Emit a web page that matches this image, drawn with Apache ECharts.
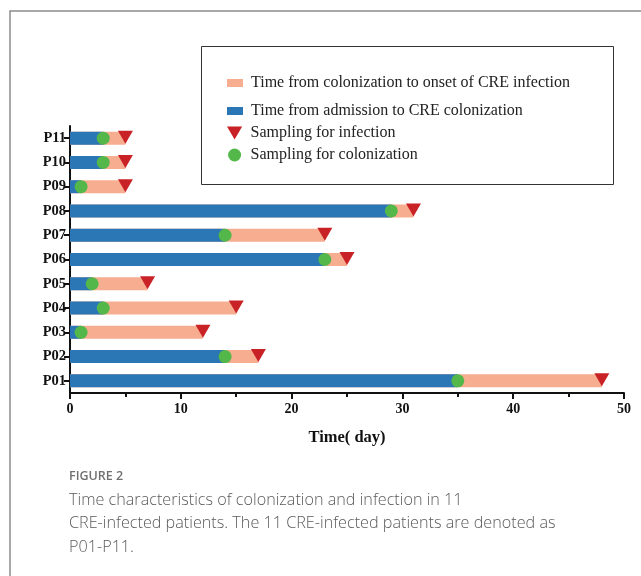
<!DOCTYPE html>
<html>
<head>
<meta charset="utf-8">
<script src="https://cdn.jsdelivr.net/npm/echarts@6/dist/echarts.min.js"></script>
<style>
  html, body { margin: 0; padding: 0; background: #fff; }
  #chart { width: 641px; height: 576px; }
</style>
</head>
<body>
<div id="chart"></div>
<script>
const patients = ['P01', 'P02', 'P03', 'P04', 'P05', 'P06', 'P07', 'P08', 'P09', 'P10', 'P11']
// day of CRE colonization (green dot, end of blue bar)
const colonizationDay = [35, 14, 1, 3, 2, 23, 14, 29, 1, 3, 3]
// day of CRE infection onset (red triangle, end of pink bar)
const infectionDay = [48, 17, 12, 15, 7, 25, 23, 31, 5, 5, 5]
const xTicks = [0, 10, 20, 30, 40, 50]

const blue = '#2b76b5'
const pink = '#f7ad8f'
const red = '#c92226'
const green = '#53b849'

const serif = '"Liberation Serif", "Times New Roman", serif'
const sans = '"Open Sans", "Noto Sans", sans-serif'

const chart = echarts.init(document.getElementById('chart'))

chart.setOption({
  animation: false,
  graphic: [
    { type: 'rect', shape: { x: 10, y: 11, width: 700, height: 700 }, style: { fill: 'none', stroke: '#8c8c8c', lineWidth: 1.5 }, silent: true },
    { type: 'rect', shape: { x: 201.5, y: 46.5, width: 412, height: 138 }, style: { fill: 'none', stroke: '#333', lineWidth: 1 }, silent: true },
    { type: 'text', left: 69, top: 470, style: { text: 'FIGURE 2', font: '600 12.5px ' + sans, fill: '#707070' } },
    {
      type: 'text', left: 69, top: 488.5,
      style: {
        text: 'Time characteristics of colonization and infection in 11\nCRE-infected patients. The 11 CRE-infected patients are denoted as\nP01-P11.',
        font: '300 16.2px ' + sans, fill: '#5a5a5a', lineHeight: 23.5
      }
    }
  ],
  legend: [
    {
      orient: 'vertical', left: 222, top: 70, itemWidth: 16, itemHeight: 8, itemGap: 12,
      data: [
        { name: 'Time from colonization to onset of CRE infection', icon: 'rect' },
        { name: 'Time from admission to CRE colonization', icon: 'rect' }
      ],
      textStyle: { fontFamily: serif, fontSize: 16, color: '#222', padding: [0, 0, 0, 3] }
    },
    {
      orient: 'vertical', left: 222, top: 120, itemWidth: 16, itemHeight: 13, itemGap: 6,
      data: [
        { name: 'Sampling for infection', icon: 'path://M0,0 L14,0 L7,12 Z' },
        { name: 'Sampling for colonization', icon: 'circle' }
      ],
      textStyle: { fontFamily: serif, fontSize: 16, color: '#222', padding: [0, 0, 0, 3] }
    }
  ],
  grid: { left: 70, right: 17, top: 126, bottom: 183 },
  xAxis: {
    type: 'value', min: xTicks[0], max: xTicks[xTicks.length - 1], interval: 10,
    axisLine: { show: true, lineStyle: { color: '#111', width: 2 } },
    axisTick: { show: true, length: 6, lineStyle: { color: '#111', width: 2 } },
    minorTick: { show: true, splitNumber: 2, length: 4, lineStyle: { color: '#111', width: 2 } },
    splitLine: { show: false },
    axisLabel: { fontFamily: serif, fontWeight: 'bold', fontSize: 14, color: '#111', margin: 9 },
    name: 'Time( day)', nameLocation: 'middle', nameGap: 36,
    nameTextStyle: { fontFamily: serif, fontWeight: 'bold', fontSize: 16.5, color: '#111' }
  },
  yAxis: {
    type: 'category', data: patients,
    axisLine: { lineStyle: { color: '#111', width: 2 } },
    axisTick: { show: true, alignWithLabel: true, length: 6, lineStyle: { color: '#111', width: 2 } },
    axisLabel: { fontFamily: serif, fontWeight: 'bold', fontSize: 14.5, color: '#111', margin: 4 }
  },
  series: [
    {
      name: 'Time from colonization to onset of CRE infection', type: 'bar',
      data: infectionDay, barWidth: 13, itemStyle: { color: pink }, z: 2
    },
    {
      name: 'Time from admission to CRE colonization', type: 'bar',
      data: colonizationDay, barWidth: 13, barGap: '-100%', itemStyle: { color: blue }, z: 3
    },
    {
      name: 'Sampling for infection', type: 'scatter',
      data: infectionDay.map((v, i) => [v, patients[i]]),
      symbol: 'triangle', symbolRotate: 180, symbolSize: [15, 13], symbolOffset: [0, -1],
      itemStyle: { color: red, opacity: 1 }, z: 5
    },
    {
      name: 'Sampling for colonization', type: 'scatter',
      data: colonizationDay.map((v, i) => [v, patients[i]]),
      symbol: 'circle', symbolSize: 13, itemStyle: { color: green, opacity: 1 }, z: 6
    }
  ]
})
</script>
</body>
</html>
